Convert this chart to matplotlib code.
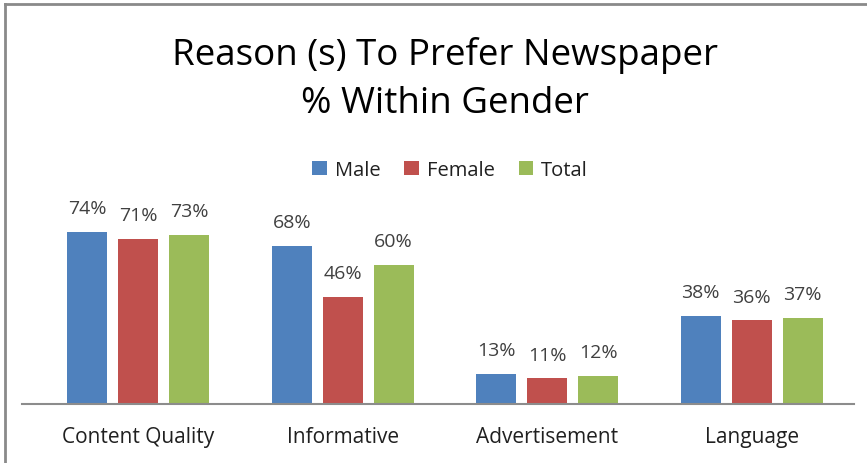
import matplotlib.pyplot as plt
import numpy as np
from matplotlib.lines import Line2D

categories = ["Content Quality", "Informative", "Advertisement", "Language"]
series = ["Male", "Female", "Total"]
male = [74, 68, 13, 38]
female = [71, 46, 11, 36]
total = [73, 60, 12, 37]
colors = ["#4F81BD", "#C0504D", "#9BBB59"]

plt.rcParams['font.family'] = ['Open Sans', 'DejaVu Sans']

fig = plt.figure(figsize=(8.67, 4.64), dpi=100)
W, H = 867, 464
# plot area in pixels: x 22..854, baseline y=405, 2.32 px per %
ax = fig.add_axes([22 / W, (H - 405) / H, (854 - 22) / W, 80 * 2.32 / H])

x = np.arange(len(categories))
width = 0.195
step = 0.249
for i, (name, vals) in enumerate(zip(series, [male, female, total])):
    pos = x + (i - 1) * step
    bars = ax.bar(pos, vals, width, color=colors[i], label=name)
    for b, v in zip(bars, vals):
        ax.text(b.get_x() + b.get_width() / 2, v + 10.3, f"{v}%",
                ha="center", va="center", fontsize=14, color="#404040",
                clip_on=False)

ax.set_xlim(-0.568, 3.5)
ax.set_ylim(0, 80)
for s in ["top", "right", "left"]:
    ax.spines[s].set_visible(False)
ax.spines["bottom"].set_color("#8C8C8C")
ax.spines["bottom"].set_linewidth(1.5)
ax.set_yticks([])
ax.set_xticks(x)
ax.set_xticklabels(categories, fontsize=15, color="#202020")
ax.tick_params(axis="x", length=0, pad=16)

fig.text(445 / W, 1 - 56 / H, "Reason (s) To Prefer Newspaper", ha="center",
         va="center", fontsize=26.5, color="black")
fig.text(445 / W, 1 - 104 / H, "% Within Gender", ha="center",
         va="center", fontsize=26.5, color="black")

fig.legend(loc="center", bbox_to_anchor=(450 / W, 1 - 171 / H), ncol=3,
           frameon=False, fontsize=14.5, handlelength=0.7, handleheight=0.7,
           handletextpad=0.4, columnspacing=1.2, labelcolor="#202020")

# border of the chart box (cropped, only top and left visible)
fig.add_artist(Line2D([5 / W, 1], [1 - 5 / H, 1 - 5 / H], color="#8A8A8A",
                      lw=2, transform=fig.transFigure))
fig.add_artist(Line2D([5 / W, 5 / W], [0, 1 - 5 / H], color="#8A8A8A",
                      lw=2, transform=fig.transFigure))

fig.savefig("out.png", dpi=100)
